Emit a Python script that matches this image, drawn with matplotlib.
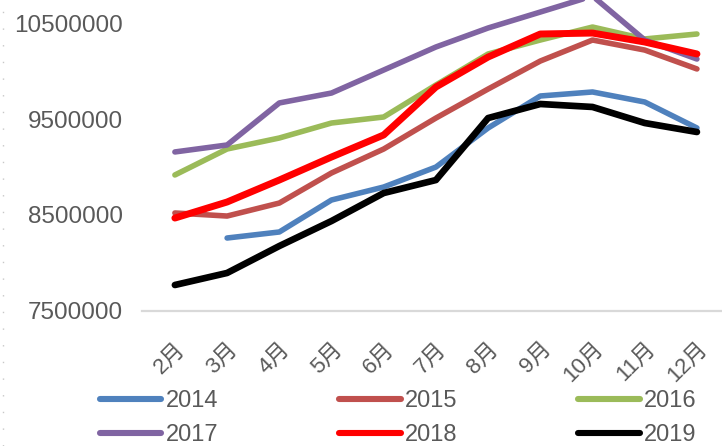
import numpy as np
import matplotlib.pyplot as plt
from matplotlib.lines import Line2D

plt.rcParams['font.family'] = ['Liberation Sans', 'Noto Sans CJK SC']

# Monthly values, Feb-Dec
months = ['2月', '3月', '4月', '5月', '6月', '7月', '8月', '9月', '10月', '11月', '12月']
v2014 = [np.nan, 8259000, 8322000, 8657000, 8793000, 9002000, 9411000, 9746000, 9788000, 9683000, 9411000]
v2015 = [8521000, 8489000, 8625000, 8940000, 9191000, 9515000, 9819000, 10112000, 10332000, 10227000, 10029000]
v2016 = [8919000, 9191000, 9306000, 9463000, 9526000, 9861000, 10186000, 10332000, 10468000, 10343000, 10395000]
v2017 = [9160000, 9233000, 9673000, 9777000, 10018000, 10259000, 10458000, 10625000, 10793000, 10332000, 10133000]
v2018 = [8468000, 8636000, 8866000, 9107000, 9338000, 9840000, 10154000, 10395000, 10405000, 10311000, 10186000]
v2019 = [7767000, 7893000, 8175000, 8437000, 8730000, 8866000, 9515000, 9662000, 9631000, 9463000, 9369000]

series = [
    ('2014', v2014, '#4F81BD', 4.0),
    ('2015', v2015, '#C0504D', 4.0),
    ('2016', v2016, '#9BBB59', 4.0),
    ('2017', v2017, '#8064A2', 4.0),
    ('2018', v2018, '#FF0000', 5.0),
    ('2019', v2019, '#000000', 4.8),
]

fig = plt.figure(figsize=(7.22, 4.46), dpi=100)
ax = fig.add_axes([142 / 722, 1 - 310.5 / 446, 580 / 722, 310.5 / 446])

x = np.arange(len(months))
handles = []
for name, vals, col, lw in series:
    h, = ax.plot(x, vals, color=col, lw=lw, label=name, solid_capstyle='round', solid_joinstyle='round')
    handles.append(h)

ax.set_xlim(-0.63, 10.48)
ax.set_ylim(7500000, 10751000)
ax.set_yticks([7500000, 8500000, 9500000, 10500000])
ax.set_yticklabels(['7500000', '8500000', '9500000', '10500000'])
ax.set_xticks(x)
ax.set_xticklabels(months, rotation=45, ha='right', rotation_mode='anchor')

for s in ['top', 'right', 'left']:
    ax.spines[s].set_visible(False)
ax.spines['bottom'].set_color('#d9d9d9')
ax.spines['bottom'].set_linewidth(1.6)
ax.tick_params(axis='y', length=0, pad=14, labelsize=17.5, labelcolor='#595959')
ax.tick_params(axis='x', length=0, pad=20, labelsize=16, labelcolor='#595959')

# dotted border on the left
fig.add_artist(Line2D([3 / 722, 3 / 722], [0, 1], transform=fig.transFigure,
                      color='#c8c8c8', lw=1, linestyle=(0, (1, 11))))

# legend filled row by row: 2014 2015 2016 / 2017 2018 2019
order = [0, 3, 1, 4, 2, 5]
leg = fig.legend([handles[i] for i in order], [series[i][0] for i in order],
                 loc='upper left', bbox_to_anchor=(100 / 722, 1 - 390 / 446), ncol=3,
                 frameon=False, fontsize=17, handlelength=2.6, handletextpad=0.2,
                 columnspacing=5.1, labelspacing=0.5, borderaxespad=0, borderpad=0)
for t in leg.get_texts():
    t.set_color('#595959')
for line in leg.get_lines():
    line.set_linewidth(4.4)
    line.set_solid_capstyle('round')

fig.savefig('out.png', dpi=100)
